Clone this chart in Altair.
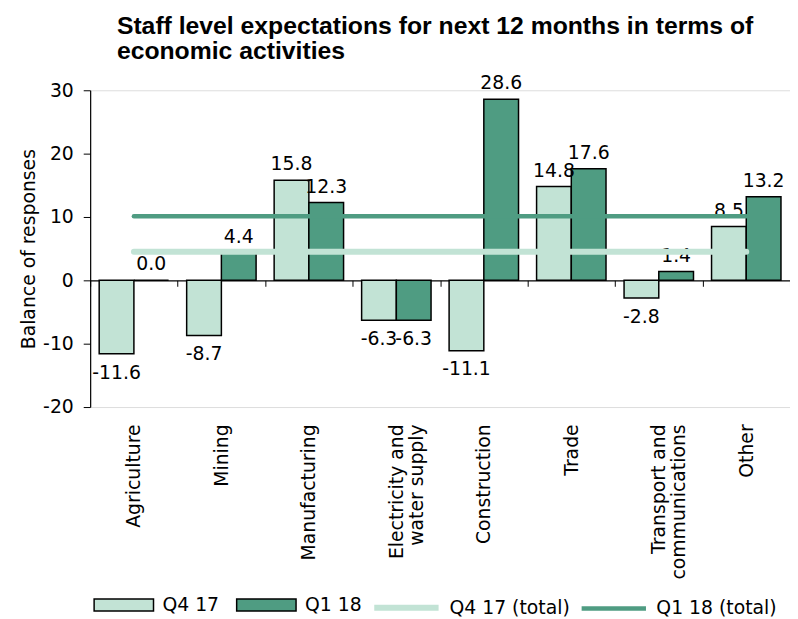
import altair as alt
import pandas as pd

categories = ["Agriculture", "Mining", "Manufacturing", "Electricity and\nwater supply",
              "Construction", "Trade", "Transport and\ncommunications", "Other"]
q4_17 = [-11.6, -8.7, 15.8, -6.3, -11.1, 14.8, -2.8, 8.5]
q1_18 = [0.0, 4.4, 12.3, -6.3, 28.6, 17.6, 1.4, 13.2]
series_names = ["Q4 17", "Q1 18"]
total_names = ["Q4 17 (total)", "Q1 18 (total)"]
totals = [4.5, 10.1]

LIGHT = "#c2e3d5"
DARK = "#4f9c82"
FONT = "DejaVu Sans"
FS = 19

rows = []
for s, vals in zip(series_names, [q4_17, q1_18]):
    for c, v in zip(categories, vals):
        rows.append({"cat": c, "series": s, "value": v})
bars_df = pd.DataFrame(rows)

lrows = []
for s, t in zip(total_names, totals):
    for c in categories:
        lrows.append({"cat": c, "total": s, "value": t})
lines_df = pd.DataFrame(lrows)

bar_legend = alt.Legend(
    title=None, orient="none", legendX=3, legendY=489, direction="horizontal",
    symbolType="M-1,-0.2H1V0.2H-1Z", symbolSize=3600, symbolStrokeColor="black",
    symbolStrokeWidth=1.5, symbolOpacity=1, labelFont=FONT, labelFontSize=FS,
    labelColor="black", labelOffset=8, columnPadding=14,
)
line_legend = alt.Legend(
    title=None, orient="none", legendX=284, legendY=487, direction="horizontal",
    symbolType="stroke", symbolSize=4225, symbolStrokeWidth=5, symbolOpacity=1,
    labelFont=FONT, labelFontSize=FS, labelColor="black", labelOffset=8, columnPadding=2,
)

x_enc = alt.X(
    "cat:N", sort=categories,
    scale=alt.Scale(paddingInner=0, paddingOuter=0),
    axis=alt.Axis(
        title=None, orient="bottom", offset=-128, labelAngle=-90,
        labelExpr="split(datum.label, '\\n')", labelLineHeight=20,
        labelFont=FONT, labelFontSize=FS, labelColor="black",
        labelPadding=139, tickBand="extent", tickSize=6, tickColor="black",
        domainColor="black", domainWidth=1.2, labelOverlap=False, labelBound=False,
    ),
)
xo_enc = alt.XOffset("series:N", sort=series_names,
                     scale=alt.Scale(paddingInner=0, paddingOuter=0.26))
y_scale = alt.Scale(domain=[-20, 30], nice=False, zero=False)

bars = alt.Chart(bars_df).mark_bar(stroke="black", strokeWidth=1.5).encode(
    x=x_enc,
    xOffset=xo_enc,
    y=alt.Y("value:Q", scale=y_scale,
            axis=alt.Axis(values=[-20, -10, 0, 10, 20, 30], title="Balance of responses",
                          labelExpr="replace(datum.label, '\u2212', '-')",
                          grid=False, tickSize=7, tickColor="black", domainColor="black",
                          domainWidth=1.2, labelFont=FONT, labelFontSize=FS,
                          labelColor="black", labelPadding=10,
                          titleFont=FONT, titleFontSize=FS, titleFontWeight="normal",
                          titleColor="black", titleX=-62, titleY=160, titleAngle=-90,
                          titleBaseline="middle", titleAlign="center")),
    y2=alt.datum(0),
    fill=alt.Fill("series:N", sort=series_names,
                  scale=alt.Scale(domain=series_names, range=[LIGHT, DARK]),
                  legend=bar_legend),
)

label_expr = "replace(format(datum.value, '.1f'), '\u2212', '-')"

text_pos = alt.Chart(bars_df).transform_filter("datum.value >= 0").transform_calculate(
    lbl=label_expr
).mark_text(
    font=FONT, fontSize=FS, color="black", baseline="middle", dy=-16
).encode(
    x=alt.X("cat:N", sort=categories),
    xOffset=alt.XOffset("series:N", sort=series_names),
    y=alt.Y("value:Q"),
    text=alt.Text("lbl:N"),
)

text_neg = alt.Chart(bars_df).transform_filter("datum.value < 0").transform_calculate(
    lbl=label_expr
).mark_text(
    font=FONT, fontSize=FS, color="black", baseline="middle", dy=19
).encode(
    x=alt.X("cat:N", sort=categories),
    xOffset=alt.XOffset("series:N", sort=series_names),
    y=alt.Y("value:Q"),
    text=alt.Text("lbl:N"),
)

lines = alt.Chart(lines_df).mark_line(strokeCap="round").encode(
    x=alt.X("cat:N", sort=categories),
    y=alt.Y("value:Q"),
    stroke=alt.Stroke("total:N", sort=total_names,
                      scale=alt.Scale(domain=total_names, range=[LIGHT, DARK]),
                      legend=line_legend),
    strokeWidth=alt.StrokeWidth("total:N", scale=alt.Scale(domain=total_names, range=[6, 4.5]),
                                legend=None),
)

chart = alt.layer(bars, text_pos, text_neg, lines).properties(
    width=707, height=320,
    autosize="none",
    padding={"left": 83, "top": 80, "right": 0, "bottom": 210},
    title=alt.TitleParams(
        text=["Staff level expectations for next 12 months in terms of", "economic activities"],
        anchor="start", frame="group", dx=27, font="Liberation Sans", fontSize=25,
        fontWeight="bold", lineHeight=25, color="black", offset=11,
    ),
).configure_view(stroke=None).configure(background="white")

chart.save("out.html", embed_options={"renderer": "svg", "actions": False})
